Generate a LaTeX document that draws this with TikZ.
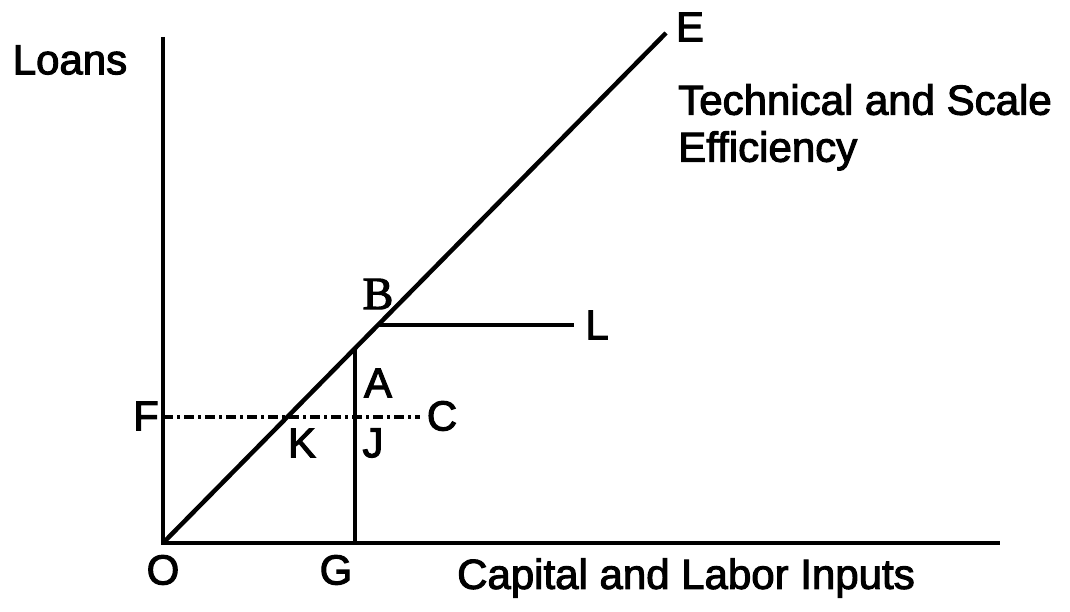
\documentclass[tikz,border=0pt]{standalone}
\usepackage{fontspec}
\setmainfont{Liberation Sans}[FakeBold=2.5]
\newfontfamily\serifB{Liberation Serif}[FakeBold=2.5]
\usetikzlibrary{positioning}

\begin{document}
\begin{tikzpicture}[x=1pt, y=-1pt,
    line width=4.5pt,
    lbl/.style={inner sep=0pt, font=\fontsize{42}{47}\selectfont},
    dashdot/.style={line width=4pt, dash pattern=on 10pt off 4pt on 3pt off 4pt}]
\useasboundingbox (0,0) rectangle (1070,612);

% axes
\coordinate (O) at (163,543);
\coordinate (ytop) at (163,37);
\coordinate (xend) at (1000,543);
\draw (ytop) -- (O) -- (xend);

% ray through origin
\coordinate (Eend) at (666,33);
\draw (O) -- (Eend);

% points on the ray
\coordinate (Bpt) at (378,325);
\coordinate (Lend) at (574,325);
\draw (Bpt) -- (Lend);

\coordinate (Apt) at (355,348);
\coordinate (Gpt) at (355,543);
\draw (Apt) -- (Gpt);

\coordinate (Fpt) at (163,417);
\coordinate (Cend) at (420,417);
\draw[dashdot] (Fpt) -- (Cend);

% labels
\node[lbl] (loans) at (70,60) {Loans};
\node[lbl] (E) at (690,27) {E};
\node[lbl, anchor=north west, align=left] (tse) at (676,82) {Technical and Scale\\Efficiency};
\node[lbl, font=\fontsize{46}{50}\serifB] (B) at (378,294) {B};
\node[lbl] (L) at (597,325) {L};
\node[lbl] (A) at (378,383) {A};
\node[lbl] (C) at (442,416) {C};
\node[lbl] (F) at (146,416) {F};
\node[lbl] (K) at (302,443) {K};
\node[lbl] (J) at (373,443) {J};
\node[lbl] (Olbl) at (163,570) {O};
\node[lbl] (G) at (336,570) {G};
\node[lbl] (xlab) at (686,578) {Capital and Labor Inputs};
\end{tikzpicture}
\end{document}
